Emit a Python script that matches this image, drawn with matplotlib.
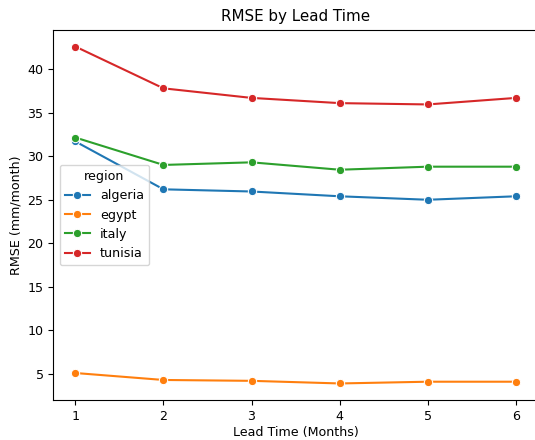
import pandas as pd
import seaborn as sns
import matplotlib
matplotlib.use("Agg")
import matplotlib.pyplot as plt

# Values
lead_time = [1, 2, 3, 4, 5, 6]
algeria = [31.7, 26.2, 25.95, 25.4, 25.0, 25.4]
egypt = [5.1, 4.3, 4.2, 3.9, 4.1, 4.1]
italy = [32.15, 29.0, 29.3, 28.45, 28.8, 28.8]
tunisia = [42.6, 37.8, 36.7, 36.1, 35.95, 36.7]

regions = {"algeria": algeria, "egypt": egypt, "italy": italy, "tunisia": tunisia}
rows = []
for name, vals in regions.items():
    for lt, v in zip(lead_time, vals):
        rows.append({"lead_time": lt, "rmse": v, "region": name})
df = pd.DataFrame(rows)

plt.rcParams["font.size"] = 9.1

fig, ax = plt.subplots(figsize=(5.35, 4.4), dpi=100)
sns.lineplot(data=df, x="lead_time", y="rmse", hue="region", marker="o", ax=ax)

ax.set_title("RMSE by Lead Time", fontsize=10.9)
ax.set_xlabel("Lead Time (Months)", labelpad=2.5)
ax.set_ylabel("RMSE (mm/month)")
ax.legend(title="region", loc="center left")

# the reference image is cropped just past the right spine
fig.subplots_adjust(left=53.3 / 535, right=538 / 535, top=1 - 29.7 / 440, bottom=1 - 400.3 / 440)
plt.savefig("out.png")
